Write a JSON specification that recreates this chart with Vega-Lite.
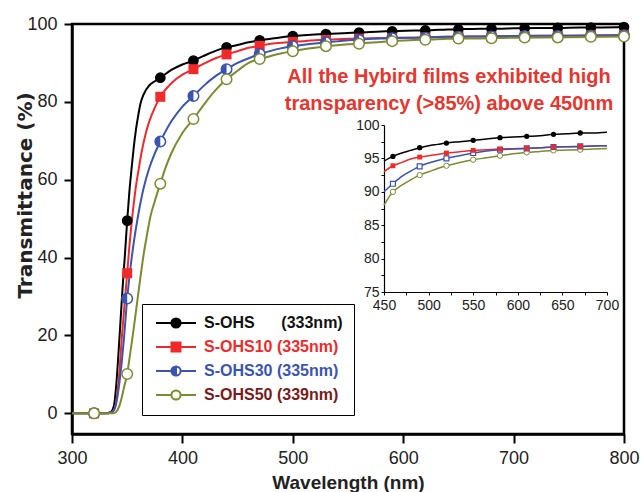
{
  "$schema": "https://vega.github.io/schema/vega-lite/v6.json",
  "autosize": {"type": "none"},
  "padding": {"left": 72, "top": 24, "right": 17, "bottom": 58},
  "width": 552,
  "height": 410,
  "config": {
    "view": {"stroke": "black", "strokeWidth": 2.5},
    "font": "Liberation Sans",
    "axis": {"grid": false}
  },
  "datasets": {
    "curve": [
      {"s":"S-OHS","wl":300,"t":0},{"s":"S-OHS","wl":330,"t":0},{"s":"S-OHS","wl":335,"t":0.3},{"s":"S-OHS","wl":338,"t":2},{"s":"S-OHS","wl":340,"t":7},{"s":"S-OHS","wl":342,"t":15},{"s":"S-OHS","wl":344,"t":24},{"s":"S-OHS","wl":346,"t":33},{"s":"S-OHS","wl":348,"t":41},{"s":"S-OHS","wl":350,"t":49.5},{"s":"S-OHS","wl":352,"t":57},{"s":"S-OHS","wl":354,"t":63},{"s":"S-OHS","wl":356,"t":68.5},{"s":"S-OHS","wl":358,"t":73},{"s":"S-OHS","wl":360,"t":76.5},{"s":"S-OHS","wl":362,"t":79.5},{"s":"S-OHS","wl":365,"t":82},{"s":"S-OHS","wl":370,"t":84.2},{"s":"S-OHS","wl":375,"t":85.3},{"s":"S-OHS","wl":380,"t":86.2},{"s":"S-OHS","wl":390,"t":88.2},{"s":"S-OHS","wl":400,"t":89.6},{"s":"S-OHS","wl":410,"t":90.6},{"s":"S-OHS","wl":420,"t":91.9},{"s":"S-OHS","wl":430,"t":93.1},{"s":"S-OHS","wl":440,"t":94.0},{"s":"S-OHS","wl":450,"t":94.6},{"s":"S-OHS","wl":460,"t":95.3},{"s":"S-OHS","wl":470,"t":95.8},{"s":"S-OHS","wl":480,"t":96.2},{"s":"S-OHS","wl":490,"t":96.6},{"s":"S-OHS","wl":500,"t":96.9},{"s":"S-OHS","wl":510,"t":97.1},{"s":"S-OHS","wl":520,"t":97.3},{"s":"S-OHS","wl":535,"t":97.5},{"s":"S-OHS","wl":550,"t":97.7},{"s":"S-OHS","wl":565,"t":97.9},{"s":"S-OHS","wl":580,"t":98.1},{"s":"S-OHS","wl":595,"t":98.2},{"s":"S-OHS","wl":610,"t":98.3},{"s":"S-OHS","wl":625,"t":98.4},{"s":"S-OHS","wl":640,"t":98.6},{"s":"S-OHS","wl":655,"t":98.7},{"s":"S-OHS","wl":670,"t":98.8},{"s":"S-OHS","wl":685,"t":98.8},{"s":"S-OHS","wl":700,"t":98.9},{"s":"S-OHS","wl":720,"t":99.0},{"s":"S-OHS","wl":740,"t":99.0},{"s":"S-OHS","wl":760,"t":99.1},{"s":"S-OHS","wl":780,"t":99.1},{"s":"S-OHS","wl":800,"t":99.2},
      {"s":"S-OHS10","wl":300,"t":0},{"s":"S-OHS10","wl":330,"t":0},{"s":"S-OHS10","wl":336,"t":0.3},{"s":"S-OHS10","wl":339,"t":1.5},{"s":"S-OHS10","wl":341,"t":5},{"s":"S-OHS10","wl":343,"t":11},{"s":"S-OHS10","wl":345,"t":19},{"s":"S-OHS10","wl":347,"t":26},{"s":"S-OHS10","wl":350,"t":36},{"s":"S-OHS10","wl":352,"t":43},{"s":"S-OHS10","wl":354,"t":49},{"s":"S-OHS10","wl":356,"t":54},{"s":"S-OHS10","wl":358,"t":58.5},{"s":"S-OHS10","wl":360,"t":62},{"s":"S-OHS10","wl":363,"t":67},{"s":"S-OHS10","wl":366,"t":71},{"s":"S-OHS10","wl":370,"t":75},{"s":"S-OHS10","wl":375,"t":78.5},{"s":"S-OHS10","wl":380,"t":81.3},{"s":"S-OHS10","wl":390,"t":84.8},{"s":"S-OHS10","wl":400,"t":87},{"s":"S-OHS10","wl":410,"t":88.4},{"s":"S-OHS10","wl":420,"t":89.9},{"s":"S-OHS10","wl":430,"t":91.2},{"s":"S-OHS10","wl":440,"t":92.2},{"s":"S-OHS10","wl":450,"t":93.0},{"s":"S-OHS10","wl":460,"t":93.9},{"s":"S-OHS10","wl":470,"t":94.4},{"s":"S-OHS10","wl":480,"t":94.9},{"s":"S-OHS10","wl":490,"t":95.2},{"s":"S-OHS10","wl":500,"t":95.4},{"s":"S-OHS10","wl":510,"t":95.6},{"s":"S-OHS10","wl":520,"t":95.8},{"s":"S-OHS10","wl":535,"t":96.0},{"s":"S-OHS10","wl":550,"t":96.2},{"s":"S-OHS10","wl":565,"t":96.3},{"s":"S-OHS10","wl":580,"t":96.4},{"s":"S-OHS10","wl":595,"t":96.45},{"s":"S-OHS10","wl":610,"t":96.5},{"s":"S-OHS10","wl":625,"t":96.6},{"s":"S-OHS10","wl":640,"t":96.7},{"s":"S-OHS10","wl":655,"t":96.75},{"s":"S-OHS10","wl":670,"t":96.8},{"s":"S-OHS10","wl":685,"t":96.85},{"s":"S-OHS10","wl":700,"t":96.9},{"s":"S-OHS10","wl":750,"t":97.0},{"s":"S-OHS10","wl":800,"t":97.2},
      {"s":"S-OHS30","wl":300,"t":0},{"s":"S-OHS30","wl":330,"t":0},{"s":"S-OHS30","wl":336,"t":0.3},{"s":"S-OHS30","wl":339,"t":1.5},{"s":"S-OHS30","wl":341,"t":4},{"s":"S-OHS30","wl":343,"t":8},{"s":"S-OHS30","wl":345,"t":13},{"s":"S-OHS30","wl":347,"t":19},{"s":"S-OHS30","wl":350,"t":29.5},{"s":"S-OHS30","wl":353,"t":37.5},{"s":"S-OHS30","wl":356,"t":44},{"s":"S-OHS30","wl":360,"t":51},{"s":"S-OHS30","wl":365,"t":58},{"s":"S-OHS30","wl":370,"t":63},{"s":"S-OHS30","wl":375,"t":66.8},{"s":"S-OHS30","wl":380,"t":69.8},{"s":"S-OHS30","wl":390,"t":75},{"s":"S-OHS30","wl":400,"t":78.8},{"s":"S-OHS30","wl":410,"t":81.5},{"s":"S-OHS30","wl":420,"t":84.3},{"s":"S-OHS30","wl":430,"t":86.6},{"s":"S-OHS30","wl":440,"t":88.4},{"s":"S-OHS30","wl":450,"t":90.0},{"s":"S-OHS30","wl":460,"t":91.2},{"s":"S-OHS30","wl":470,"t":92.3},{"s":"S-OHS30","wl":480,"t":93.1},{"s":"S-OHS30","wl":490,"t":93.8},{"s":"S-OHS30","wl":500,"t":94.3},{"s":"S-OHS30","wl":510,"t":94.7},{"s":"S-OHS30","wl":520,"t":95.0},{"s":"S-OHS30","wl":535,"t":95.4},{"s":"S-OHS30","wl":550,"t":95.8},{"s":"S-OHS30","wl":565,"t":96.1},{"s":"S-OHS30","wl":580,"t":96.3},{"s":"S-OHS30","wl":595,"t":96.4},{"s":"S-OHS30","wl":610,"t":96.5},{"s":"S-OHS30","wl":625,"t":96.6},{"s":"S-OHS30","wl":640,"t":96.7},{"s":"S-OHS30","wl":655,"t":96.75},{"s":"S-OHS30","wl":670,"t":96.8},{"s":"S-OHS30","wl":685,"t":96.85},{"s":"S-OHS30","wl":700,"t":96.9},{"s":"S-OHS30","wl":750,"t":97.0},{"s":"S-OHS30","wl":800,"t":97.1},
      {"s":"S-OHS50","wl":300,"t":0},{"s":"S-OHS50","wl":338,"t":0},{"s":"S-OHS50","wl":341,"t":0.8},{"s":"S-OHS50","wl":343,"t":2},{"s":"S-OHS50","wl":345,"t":4},{"s":"S-OHS50","wl":347,"t":6.5},{"s":"S-OHS50","wl":350,"t":10.1},{"s":"S-OHS50","wl":353,"t":16},{"s":"S-OHS50","wl":356,"t":22},{"s":"S-OHS50","wl":359,"t":28.5},{"s":"S-OHS50","wl":362,"t":35},{"s":"S-OHS50","wl":365,"t":41},{"s":"S-OHS50","wl":368,"t":46},{"s":"S-OHS50","wl":371,"t":50.5},{"s":"S-OHS50","wl":375,"t":54.5},{"s":"S-OHS50","wl":380,"t":59},{"s":"S-OHS50","wl":385,"t":63.3},{"s":"S-OHS50","wl":390,"t":66.8},{"s":"S-OHS50","wl":400,"t":72},{"s":"S-OHS50","wl":410,"t":75.6},{"s":"S-OHS50","wl":420,"t":79.5},{"s":"S-OHS50","wl":430,"t":83},{"s":"S-OHS50","wl":440,"t":85.8},{"s":"S-OHS50","wl":450,"t":88.0},{"s":"S-OHS50","wl":460,"t":90.0},{"s":"S-OHS50","wl":470,"t":91.0},{"s":"S-OHS50","wl":480,"t":91.8},{"s":"S-OHS50","wl":490,"t":92.5},{"s":"S-OHS50","wl":500,"t":93.0},{"s":"S-OHS50","wl":510,"t":93.5},{"s":"S-OHS50","wl":520,"t":93.9},{"s":"S-OHS50","wl":535,"t":94.4},{"s":"S-OHS50","wl":550,"t":94.8},{"s":"S-OHS50","wl":565,"t":95.1},{"s":"S-OHS50","wl":580,"t":95.4},{"s":"S-OHS50","wl":595,"t":95.7},{"s":"S-OHS50","wl":610,"t":95.9},{"s":"S-OHS50","wl":625,"t":96.05},{"s":"S-OHS50","wl":640,"t":96.2},{"s":"S-OHS50","wl":655,"t":96.25},{"s":"S-OHS50","wl":670,"t":96.3},{"s":"S-OHS50","wl":685,"t":96.4},{"s":"S-OHS50","wl":700,"t":96.5},{"s":"S-OHS50","wl":750,"t":96.6},{"s":"S-OHS50","wl":800,"t":96.8}
    ],
    "mk": [
      {"s":"S-OHS","wl":320,"t":0},{"s":"S-OHS","wl":350,"t":49.5},{"s":"S-OHS","wl":380,"t":86.2},{"s":"S-OHS","wl":410,"t":90.6},{"s":"S-OHS","wl":440,"t":94.0},{"s":"S-OHS","wl":470,"t":95.8},{"s":"S-OHS","wl":500,"t":96.9},{"s":"S-OHS","wl":530,"t":97.4},{"s":"S-OHS","wl":560,"t":97.8},{"s":"S-OHS","wl":590,"t":98.1},{"s":"S-OHS","wl":620,"t":98.35},{"s":"S-OHS","wl":650,"t":98.65},{"s":"S-OHS","wl":680,"t":98.8},{"s":"S-OHS","wl":710,"t":98.9},{"s":"S-OHS","wl":740,"t":99.0},{"s":"S-OHS","wl":770,"t":99.1},{"s":"S-OHS","wl":800,"t":99.2},
      {"s":"S-OHS10","wl":320,"t":0},{"s":"S-OHS10","wl":350,"t":36},{"s":"S-OHS10","wl":380,"t":81.3},{"s":"S-OHS10","wl":410,"t":88.4},{"s":"S-OHS10","wl":440,"t":92.2},{"s":"S-OHS10","wl":470,"t":94.4},{"s":"S-OHS10","wl":500,"t":95.4},{"s":"S-OHS10","wl":530,"t":95.9},{"s":"S-OHS10","wl":560,"t":96.25},{"s":"S-OHS10","wl":590,"t":96.45},{"s":"S-OHS10","wl":620,"t":96.55},{"s":"S-OHS10","wl":650,"t":96.75},{"s":"S-OHS10","wl":680,"t":96.8},{"s":"S-OHS10","wl":710,"t":96.9},{"s":"S-OHS10","wl":740,"t":96.95},{"s":"S-OHS10","wl":770,"t":97.1},{"s":"S-OHS10","wl":800,"t":97.2},
      {"s":"S-OHS30","wl":320,"t":0},{"s":"S-OHS30","wl":350,"t":29.5},{"s":"S-OHS30","wl":380,"t":69.8},{"s":"S-OHS30","wl":410,"t":81.5},{"s":"S-OHS30","wl":440,"t":88.4},{"s":"S-OHS30","wl":470,"t":92.3},{"s":"S-OHS30","wl":500,"t":94.3},{"s":"S-OHS30","wl":530,"t":95.3},{"s":"S-OHS30","wl":560,"t":95.9},{"s":"S-OHS30","wl":590,"t":96.35},{"s":"S-OHS30","wl":620,"t":96.5},{"s":"S-OHS30","wl":650,"t":96.75},{"s":"S-OHS30","wl":680,"t":96.8},{"s":"S-OHS30","wl":710,"t":96.9},{"s":"S-OHS30","wl":740,"t":96.95},{"s":"S-OHS30","wl":770,"t":97.05},{"s":"S-OHS30","wl":800,"t":97.1},
      {"s":"S-OHS50","wl":320,"t":0},{"s":"S-OHS50","wl":350,"t":10.1},{"s":"S-OHS50","wl":380,"t":59},{"s":"S-OHS50","wl":410,"t":75.6},{"s":"S-OHS50","wl":440,"t":85.8},{"s":"S-OHS50","wl":470,"t":91.0},{"s":"S-OHS50","wl":500,"t":93.0},{"s":"S-OHS50","wl":530,"t":94.3},{"s":"S-OHS50","wl":560,"t":94.9},{"s":"S-OHS50","wl":590,"t":95.6},{"s":"S-OHS50","wl":620,"t":95.95},{"s":"S-OHS50","wl":650,"t":96.25},{"s":"S-OHS50","wl":680,"t":96.35},{"s":"S-OHS50","wl":710,"t":96.5},{"s":"S-OHS50","wl":740,"t":96.55},{"s":"S-OHS50","wl":770,"t":96.7},{"s":"S-OHS50","wl":800,"t":96.8}
    ],
    "imk": [
      {"s":"S-OHS","wl":460,"t":95.3},{"s":"S-OHS","wl":490,"t":96.6},{"s":"S-OHS","wl":520,"t":97.3},{"s":"S-OHS","wl":550,"t":97.7},{"s":"S-OHS","wl":580,"t":98.1},{"s":"S-OHS","wl":610,"t":98.3},{"s":"S-OHS","wl":640,"t":98.6},{"s":"S-OHS","wl":670,"t":98.8},
      {"s":"S-OHS10","wl":460,"t":93.9},{"s":"S-OHS10","wl":490,"t":95.2},{"s":"S-OHS10","wl":520,"t":95.8},{"s":"S-OHS10","wl":550,"t":96.2},{"s":"S-OHS10","wl":580,"t":96.4},{"s":"S-OHS10","wl":610,"t":96.5},{"s":"S-OHS10","wl":640,"t":96.7},{"s":"S-OHS10","wl":670,"t":96.8},
      {"s":"S-OHS30","wl":460,"t":91.2},{"s":"S-OHS30","wl":490,"t":93.8},{"s":"S-OHS30","wl":520,"t":95.0},{"s":"S-OHS30","wl":550,"t":95.8},{"s":"S-OHS30","wl":580,"t":96.3},{"s":"S-OHS30","wl":610,"t":96.5},{"s":"S-OHS30","wl":640,"t":96.7},{"s":"S-OHS30","wl":670,"t":96.8},
      {"s":"S-OHS50","wl":460,"t":90.0},{"s":"S-OHS50","wl":490,"t":92.5},{"s":"S-OHS50","wl":520,"t":93.9},{"s":"S-OHS50","wl":550,"t":94.8},{"s":"S-OHS50","wl":580,"t":95.4},{"s":"S-OHS50","wl":610,"t":95.9},{"s":"S-OHS50","wl":640,"t":96.2},{"s":"S-OHS50","wl":670,"t":96.3}
    ]
  },
  "layer": [
    {
      "data": {"values": [{}]},
      "encoding": {
        "x": {"datum": 641.5, "type": "quantitative", "scale": {"domain": [300, 800], "nice": false, "zero": false}, "axis": null},
        "y": {"datum": 84.85, "type": "quantitative", "scale": {"domain": [-5.3, 100], "nice": false, "zero": false}, "axis": null}
      },
      "layer": [
        {
          "mark": {"type": "rect", "fill": "black", "fillOpacity": 1, "stroke": "black", "strokeWidth": 1},
          "encoding": {
            "x": {"datum": 368.8, "type": "quantitative", "axis": null},
            "x2": {"datum": 553.6},
            "y": {"datum": -0.13, "type": "quantitative", "axis": null},
            "y2": {"datum": 26.6}
          }
        },
        {
          "mark": {"type": "text", "text": ["All the Hybird films exhibited high", "transparency (>85%) above 450nm"], "font": "Liberation Sans", "fontSize": 20, "fontWeight": "bold", "color": "#e8352d", "align": "center", "baseline": "alphabetic", "lineHeight": 27}
        }
      ]
    },
    {
      "encoding": {
        "x": {"field": "wl", "type": "quantitative", "scale": {"domain": [300, 800], "nice": false, "zero": false},
          "axis": {
            "orient": "bottom",
            "title": "Wavelength (nm)",
            "values": [300, 400, 500, 600, 700, 800],
            "labelFont": "Liberation Sans", "labelFontSize": 18, "labelColor": "#222222",
            "labelPadding": 6, "labelFlush": false,
            "tickSize": 9, "tickWidth": 2, "tickColor": "black",
            "domainColor": "black", "domainWidth": 2.5,
            "titleFont": "Liberation Sans", "titleFontSize": 19, "titleFontWeight": "bold", "titleColor": "#222222",
            "titleBaseline": "alphabetic", "titleY": 54
          }
        },
        "y": {"field": "t", "type": "quantitative", "scale": {"domain": [-5.3, 100], "nice": false, "zero": false},
          "axis": {
            "orient": "left",
            "title": "Transmittance (%)",
            "values": [0, 20, 40, 60, 80, 100],
            "labelFont": "Liberation Sans", "labelFontSize": 18, "labelColor": "#222222",
            "labelPadding": 7, "labelFlush": false,
            "tickSize": 8, "tickWidth": 2, "tickColor": "black",
            "domainColor": "black", "domainWidth": 2.5,
            "titleFont": "DejaVu Sans", "titleFontSize": 20, "titleFontWeight": "bold", "titleColor": "#222222",
            "titleBaseline": "alphabetic", "titleX": -41, "titleY": 171
          }
        }
      },
      "layer": [
        {
          "data": {"name": "curve"},
          "mark": {"type": "line", "strokeWidth": 2, "interpolate": "monotone"},
          "encoding": {
            "color": {
              "field": "s", "type": "nominal",
              "scale": {"domain": ["S-OHS", "S-OHS10", "S-OHS30", "S-OHS50"], "range": ["#000000", "#f02a2a", "#3b54b0", "#7d8b2e"]},
              "legend": {
                "title": null,
                "orient": "none", "legendX": 70, "legendY": 280,
                "fillColor": "white", "strokeColor": "black",
                "padding": 11, "rowPadding": 6, "labelOffset": 35,
                "labelFont": "Liberation Sans", "labelFontSize": 16, "labelFontWeight": "bold", "labelLimit": 300,
                "symbolSize": 100, "symbolStrokeWidth": 2,
                "labelExpr": "datum.value == 'S-OHS' ? 'S-OHS\u00a0\u00a0\u00a0\u00a0\u00a0\u00a0(333nm)' : datum.value == 'S-OHS10' ? 'S-OHS10 (335nm)' : datum.value == 'S-OHS30' ? 'S-OHS30 (335nm)' : 'S-OHS50 (339nm)'",
                "encode": {
                  "labels": {"update": {"fill": {"signal": "datum.value == 'S-OHS' ? '#111111' : datum.value == 'S-OHS10' ? '#f02a2a' : datum.value == 'S-OHS30' ? '#3b54b0' : '#7a1a1a'"}}},
                  "symbols": {"update": {
                    "shape": {"signal": "datum.value == 'S-OHS' ? 'M-1,0H7M2.08,0A0.92,0.92 0 1,0 3.92,0A0.92,0.92 0 1,0 2.08,0Z' : datum.value == 'S-OHS10' ? 'M-1,0H7M2.1,-0.9H3.9V0.9H2.1Z' : datum.value == 'S-OHS30' ? 'M-1,0H2.08M3.92,0H7M3,-0.92A0.92,0.92 0 0,0 3,0.92ZM3,-0.92A0.92,0.92 0 0,1 3,0.92A0.92,0.92 0 0,0 3,-0.92' : 'M-1,0H2.08M3.92,0H7M2.08,0A0.92,0.92 0 1,0 3.92,0A0.92,0.92 0 1,0 2.08,0Z'"},
                    "fill": {"signal": "datum.value == 'S-OHS' ? '#000000' : datum.value == 'S-OHS10' ? '#f02a2a' : datum.value == 'S-OHS30' ? '#3b54b0' : '#ffffff'"},
                    "stroke": {"signal": "datum.value == 'S-OHS' ? '#000000' : datum.value == 'S-OHS10' ? '#f02a2a' : datum.value == 'S-OHS30' ? '#3b54b0' : '#7d8b2e'"},
                    "strokeWidth": {"value": 2},
                    "size": {"value": 100}
                  }}
                }
              }
            }
          }
        },
        {
          "data": {"name": "mk"},
          "transform": [{"filter": "datum.s == 'S-OHS'"}],
          "mark": {"type": "point", "shape": "circle", "filled": true, "color": "#000000", "size": 115, "opacity": 1}
        },
        {
          "data": {"name": "mk"},
          "transform": [{"filter": "datum.s == 'S-OHS10'"}],
          "mark": {"type": "point", "shape": "square", "filled": true, "color": "#f02a2a", "size": 100, "opacity": 1}
        },
        {
          "data": {"name": "mk"},
          "transform": [{"filter": "datum.s == 'S-OHS30'"}],
          "mark": {"type": "point", "shape": "circle", "filled": true, "fill": "white", "stroke": "#3b54b0", "strokeWidth": 1.5, "size": 110, "opacity": 1}
        },
        {
          "data": {"name": "mk"},
          "transform": [{"filter": "datum.s == 'S-OHS30'"}],
          "mark": {"type": "point", "shape": "M0,-1A1,1 0 0,0 0,1Z", "filled": true, "color": "#3b54b0", "size": 110, "opacity": 1}
        },
        {
          "data": {"name": "mk"},
          "transform": [{"filter": "datum.s == 'S-OHS50'"}],
          "mark": {"type": "point", "shape": "circle", "filled": true, "fill": "white", "stroke": "#7d8b2e", "strokeWidth": 1.5, "size": 110, "opacity": 1}
        }
      ]
    },
    {
      "data": {"name": "curve"},
      "transform": [{"filter": "datum.wl >= 450 && datum.wl <= 700"}],
      "encoding": {
        "x": {
          "field": "wl", "type": "quantitative",
          "scale": {"domain": [450, 700], "range": [312, 535], "nice": false, "zero": false},
          "axis": {
            "orient": "bottom", "offset": -142, "title": null,
            "values": [450, 475, 500, 525, 550, 575, 600, 625, 650, 675, 700],
            "labelExpr": "datum.value % 50 == 0 ? datum.label : ''",
            "labelFont": "Liberation Sans", "labelFontSize": 14, "labelColor": "#222222", "labelPadding": 3, "labelFlush": false,
            "tickSize": 3,
            "tickWidth": 1, "tickColor": "black", "domainColor": "black", "domainWidth": 1.2
          }
        },
        "y": {
          "field": "t", "type": "quantitative",
          "scale": {"domain": [75, 100], "range": [268, 101], "nice": false, "zero": false},
          "axis": {
            "orient": "left", "offset": -312, "title": null,
            "values": [75, 77.5, 80, 82.5, 85, 87.5, 90, 92.5, 95, 97.5, 100],
            "labelExpr": "datum.value % 5 == 0 ? datum.label : ''",
            "labelFont": "Liberation Sans", "labelFontSize": 14, "labelColor": "#222222", "labelPadding": 2, "labelFlush": false,
            "tickSize": 3,
            "tickWidth": 1, "tickColor": "black", "domainColor": "black", "domainWidth": 1.2
          }
        }
      },
      "layer": [
        {
          "data": {"values": [{}]},
          "mark": {"type": "rect", "fillOpacity": 0, "stroke": "black", "strokeWidth": 1.2},
          "encoding": {
            "x": {"datum": 450, "type": "quantitative"},
            "x2": {"datum": 700},
            "y": {"datum": 75, "type": "quantitative"},
            "y2": {"datum": 100}
          }
        },
        {
          "mark": {"type": "line", "strokeWidth": 1.5, "interpolate": "monotone"},
          "encoding": {
            "color": {
              "field": "s", "type": "nominal",
              "scale": {"domain": ["S-OHS", "S-OHS10", "S-OHS30", "S-OHS50"], "range": ["#000000", "#f02a2a", "#3b54b0", "#7d8b2e"]},
              "legend": null
            }
          }
        },
        {
          "data": {"name": "imk"},
          "transform": [{"filter": "datum.s == 'S-OHS50'"}],
          "mark": {"type": "point", "shape": "circle", "filled": true, "fill": "white", "stroke": "#7d8b2e", "strokeWidth": 1, "size": 28, "opacity": 1}
        },
        {
          "data": {"name": "imk"},
          "transform": [{"filter": "datum.s == 'S-OHS30'"}],
          "mark": {"type": "point", "shape": "square", "filled": true, "fill": "white", "stroke": "#3b54b0", "strokeWidth": 1.2, "size": 24, "opacity": 1}
        },
        {
          "data": {"name": "imk"},
          "transform": [{"filter": "datum.s == 'S-OHS10'"}],
          "mark": {"type": "point", "shape": "square", "filled": true, "color": "#f02a2a", "size": 24, "opacity": 1}
        },
        {
          "data": {"name": "imk"},
          "transform": [{"filter": "datum.s == 'S-OHS'"}],
          "mark": {"type": "point", "shape": "circle", "filled": true, "color": "#000000", "size": 28, "opacity": 1}
        }
      ]
    }
  ],
  "resolve": {"scale": {"x": "independent", "y": "independent"}}
}
